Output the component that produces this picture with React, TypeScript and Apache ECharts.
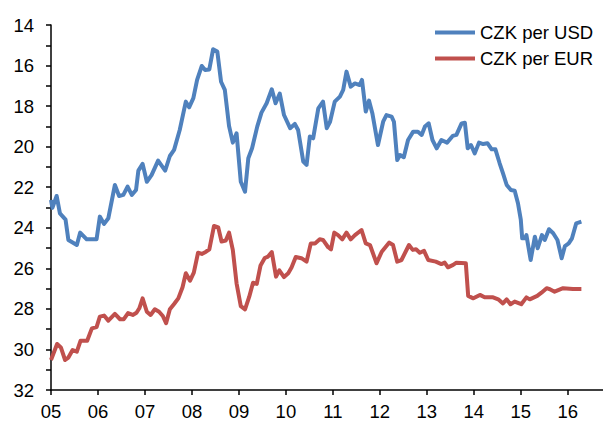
import React, { useEffect, useRef } from "react";
import * as echarts from "echarts";

const seriesNames = ["CZK per USD", "CZK per EUR"];

const usdDates = [
  2005.0, 2005.03, 2005.12, 2005.19, 2005.31, 2005.37, 2005.55, 2005.62, 2005.76, 2005.97,
  2006.04, 2006.13, 2006.22, 2006.36, 2006.45, 2006.54, 2006.63, 2006.72, 2006.81, 2006.86,
  2006.95, 2007.04, 2007.14, 2007.28, 2007.43, 2007.53, 2007.62, 2007.74, 2007.87, 2007.94,
  2008.03, 2008.11, 2008.21, 2008.28, 2008.37, 2008.45, 2008.54, 2008.62, 2008.7, 2008.79,
  2008.87, 2008.95, 2009.04, 2009.13, 2009.2, 2009.28, 2009.39, 2009.48, 2009.59, 2009.7,
  2009.78, 2009.87, 2009.96, 2010.09, 2010.19, 2010.26, 2010.37, 2010.44, 2010.51, 2010.58,
  2010.69, 2010.79, 2010.87, 2010.94, 2011.04, 2011.15, 2011.22, 2011.29, 2011.38, 2011.47,
  2011.57, 2011.62, 2011.7, 2011.77, 2011.84, 2011.96, 2012.07, 2012.14, 2012.25, 2012.3,
  2012.37, 2012.43, 2012.51, 2012.6, 2012.71, 2012.81, 2012.89, 2012.96, 2013.04, 2013.12,
  2013.21, 2013.31, 2013.43, 2013.55, 2013.63, 2013.74, 2013.81, 2013.87, 2013.94, 2014.02,
  2014.11, 2014.2, 2014.29, 2014.38, 2014.46, 2014.55, 2014.62, 2014.7, 2014.79, 2014.87,
  2014.94, 2015.0, 2015.03, 2015.09, 2015.12, 2015.21, 2015.3, 2015.36, 2015.45, 2015.51,
  2015.6, 2015.69, 2015.78, 2015.87, 2015.94, 2016.02, 2016.09, 2016.18, 2016.29,
];
const usdValues = [
  22.63, 23.02, 22.43, 23.29, 23.6, 24.6, 24.85, 24.24, 24.57, 24.57,
  23.45, 23.81, 23.53, 21.89, 22.43, 22.38, 21.97, 22.38, 22.14, 21.18,
  20.85, 21.73, 21.4, 20.69, 21.18, 20.46, 20.16, 19.18, 17.78, 18.06,
  17.61, 16.71, 16.02, 16.22, 16.19, 15.2, 15.31, 16.8, 17.2, 18.98,
  19.8, 19.34, 21.73, 22.22, 20.57, 20.08, 19.01, 18.32, 17.86, 17.17,
  17.86, 17.38, 18.44, 19.09, 18.88, 19.18, 20.74, 20.9, 19.5, 19.59,
  18.11, 17.78, 19.09, 18.77, 17.78, 17.53, 17.2, 16.3, 17.04, 16.88,
  16.96, 16.71, 18.27, 17.73, 18.35, 19.92, 18.77, 18.44, 18.52, 18.77,
  20.66, 20.41, 20.52, 19.67, 19.26, 19.26, 19.42, 19.01, 18.85, 19.67,
  20.08, 19.67, 19.8, 19.47, 19.42, 18.85, 18.82, 20.08, 19.92, 20.33,
  19.8, 19.87, 19.83, 20.13, 20.13, 20.82, 21.31, 21.89, 22.14, 22.17,
  22.79, 23.6, 24.52, 24.52, 24.36, 25.59, 24.44, 25.01, 24.36, 24.6,
  24.07, 24.27, 24.6, 25.5, 24.9, 24.77, 24.52, 23.78, 23.7,
];

const eurDates = [
  2005.0, 2005.13, 2005.21, 2005.3, 2005.37, 2005.46, 2005.55, 2005.63, 2005.77, 2005.87,
  2005.97, 2006.04, 2006.13, 2006.22, 2006.36, 2006.47, 2006.55, 2006.64, 2006.74, 2006.82,
  2006.88, 2006.95, 2007.04, 2007.12, 2007.21, 2007.3, 2007.38, 2007.45, 2007.53, 2007.62,
  2007.71, 2007.8, 2007.87, 2007.96, 2008.04, 2008.13, 2008.21, 2008.3, 2008.37, 2008.47,
  2008.56, 2008.63, 2008.72, 2008.79, 2008.87, 2008.95, 2009.04, 2009.13, 2009.22, 2009.3,
  2009.38, 2009.46, 2009.55, 2009.62, 2009.7, 2009.79, 2009.86, 2009.96, 2010.05, 2010.12,
  2010.21, 2010.33, 2010.44, 2010.53, 2010.62, 2010.72, 2010.79, 2010.9, 2010.96, 2011.03,
  2011.11, 2011.2, 2011.29, 2011.38, 2011.47, 2011.61, 2011.7, 2011.79, 2011.93, 2012.04,
  2012.2, 2012.28, 2012.37, 2012.46, 2012.62, 2012.7, 2012.77, 2012.85, 2012.94, 2013.03,
  2013.19, 2013.31, 2013.38, 2013.45, 2013.56, 2013.63, 2013.83, 2013.88, 2013.99, 2014.13,
  2014.23, 2014.41, 2014.52, 2014.62, 2014.7, 2014.78, 2014.87, 2015.01, 2015.12, 2015.19,
  2015.35, 2015.44, 2015.55, 2015.62, 2015.72, 2015.9, 2016.11, 2016.29,
];
const eurValues = [
  30.52, 29.73, 29.9, 30.52, 30.4, 30.03, 30.11, 29.57, 29.57, 28.96,
  28.9, 28.38, 28.33, 28.58, 28.25, 28.51, 28.51, 28.21, 28.3, 28.19,
  27.97, 27.48, 28.14, 28.3, 28.02, 28.14, 28.35, 28.71, 28.02, 27.76,
  27.48, 26.93, 26.24, 26.61, 26.21, 25.23, 25.29, 25.18, 25.06, 23.91,
  23.98, 24.68, 24.63, 24.24, 25.09, 26.74, 27.86, 28.02, 27.4, 26.71,
  26.77, 25.86, 25.49, 25.42, 25.2, 26.41, 26.1, 26.43, 26.24, 25.96,
  25.44, 25.5, 25.67, 24.77, 24.77, 24.57, 24.6, 24.96, 25.06, 24.24,
  24.36, 24.57, 24.24, 24.57, 24.36, 24.11, 24.77, 24.85, 25.75, 25.18,
  24.73, 24.85, 25.67, 25.59, 24.85, 25.09, 25.06, 25.23, 25.14, 25.59,
  25.67, 25.79, 25.72, 25.95, 25.83, 25.72, 25.75, 27.36, 27.48, 27.31,
  27.43, 27.43, 27.53, 27.73, 27.53, 27.77, 27.64, 27.77, 27.43, 27.53,
  27.36, 27.2, 26.98, 27.03, 27.15, 26.98, 27.02, 27.02,
];

const FONT = "'Liberation Sans', Arial, sans-serif";

export default function App() {
  const ref = useRef<HTMLDivElement>(null);
  useEffect(() => {
    if (!ref.current) return;
    const chart = echarts.init(ref.current, undefined, { renderer: "svg" });
    const usd = usdDates.map((d, i) => [d, usdValues[i]]);
    const eur = eurDates.map((d, i) => [d, eurValues[i]]);
    chart.setOption({
      animation: false,
      backgroundColor: "#fff",
      textStyle: { fontFamily: FONT },
      grid: { left: 51, right: 0, top: 25, bottom: 31, containLabel: false },
      legend: {
        data: seriesNames,
        orient: "vertical",
        left: 435,
        top: 23,
        padding: 0,
        itemWidth: 40,
        itemHeight: 4,
        itemGap: 7,
        icon: "rect",
        textStyle: { fontSize: 18.5, color: "#000", fontFamily: FONT },
      },
      xAxis: {
        type: "value",
        min: 2005,
        max: 2016.75,
        interval: 1,
        splitLine: { show: false },
        axisLine: { show: true, lineStyle: { color: "#000", width: 1.5 } },
        axisTick: { show: true, length: 5, lineStyle: { color: "#000", width: 1.5 } },
        axisLabel: {
          fontSize: 18.5,
          color: "#000",
          fontFamily: FONT,
          margin: 12,
          showMaxLabel: false,
          formatter: (v: number) => String(Math.round(v) % 100).padStart(2, "0"),
        },
      },
      yAxis: {
        type: "value",
        inverse: true,
        min: 14,
        max: 32,
        interval: 2,
        splitLine: { show: false },
        axisLine: { show: true, lineStyle: { color: "#000", width: 1.5 } },
        axisTick: { show: true, length: 5, lineStyle: { color: "#000", width: 1.5 } },
        minorTick: { show: true, splitNumber: 2, length: 5, lineStyle: { color: "#000", width: 1.5 } },
        minorSplitLine: { show: false },
        axisLabel: { fontSize: 18.5, color: "#000", fontFamily: FONT, margin: 17 },
      },
      series: [
        {
          name: seriesNames[0],
          type: "line",
          data: usd,
          symbol: "none",
          showSymbol: false,
          color: "#4F81BD",
          lineStyle: { width: 4, color: "#4F81BD", join: "round" },
        },
        {
          name: seriesNames[1],
          type: "line",
          data: eur,
          symbol: "none",
          showSymbol: false,
          color: "#C0504D",
          lineStyle: { width: 4, color: "#C0504D", join: "round" },
        },
      ],
    });
    return () => chart.dispose();
  }, []);
  return (
    <div
      ref={ref}
      style={{ position: "fixed", left: 0, top: 0, width: 603, height: 421 }}
    />
  );
}
